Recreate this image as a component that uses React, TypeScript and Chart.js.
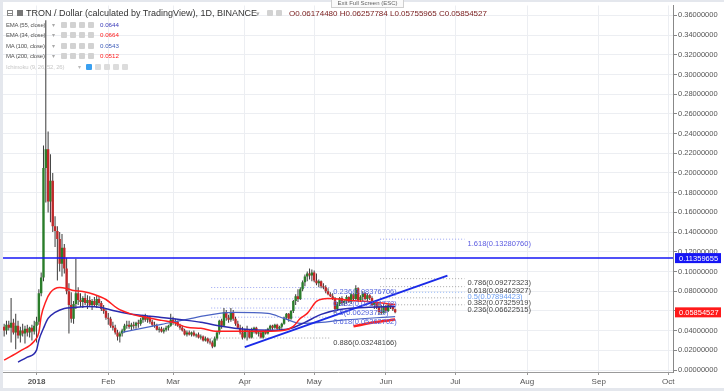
import React, { useEffect, useRef } from 'react';
import { Chart, registerables } from 'chart.js';

Chart.register(...registerables);

const FONT = '"Liberation Sans", Arial, Helvetica, sans-serif';

// day 0 = 1 Jan 2018, first candle = 18 Dec 2017
const FIRST_DAY = -14;

const opens = [
  0.044, 0.040, 0.046, 0.043, 0.048, 0.038, 0.045, 0.035, 0.040, 0.037,
  0.042, 0.038, 0.043, 0.039, 0.045, 0.049, 0.078, 0.094, 0.205, 0.224,
  0.171, 0.192, 0.146, 0.141, 0.133, 0.108, 0.124, 0.103, 0.080, 0.066,
  0.052, 0.067, 0.078, 0.071, 0.069, 0.073, 0.068, 0.071, 0.066, 0.070,
  0.066, 0.072, 0.068, 0.062, 0.060, 0.053, 0.052, 0.045, 0.043, 0.038,
  0.034, 0.037, 0.040, 0.045, 0.046, 0.044, 0.046, 0.045, 0.048, 0.047,
  0.051, 0.055, 0.051, 0.053, 0.049, 0.046, 0.045, 0.041, 0.042, 0.039,
  0.041, 0.043, 0.045, 0.051, 0.048, 0.049, 0.045, 0.043, 0.040, 0.036,
  0.038, 0.036, 0.038, 0.035, 0.036, 0.033, 0.034, 0.030, 0.032, 0.029,
  0.028, 0.024, 0.032, 0.038, 0.050, 0.045, 0.059, 0.053, 0.051, 0.059,
  0.052, 0.047, 0.043, 0.038, 0.033, 0.041, 0.040, 0.033, 0.041, 0.043,
  0.037, 0.038, 0.033, 0.039, 0.037, 0.042, 0.045, 0.043, 0.046, 0.042,
  0.044, 0.047, 0.053, 0.057, 0.052, 0.060, 0.070, 0.075, 0.072, 0.082,
  0.089, 0.095, 0.098, 0.096, 0.099, 0.091, 0.088, 0.090, 0.085, 0.084,
  0.080, 0.077, 0.075, 0.073, 0.062, 0.067, 0.073, 0.068, 0.070, 0.074,
  0.069, 0.077, 0.072, 0.083, 0.071, 0.074, 0.078, 0.072, 0.076, 0.073,
  0.066, 0.068, 0.064, 0.059, 0.058, 0.065, 0.060, 0.066, 0.064, 0.0617448,
];
const highs = [
  0.047, 0.050, 0.050, 0.073, 0.052, 0.057, 0.050, 0.044, 0.047, 0.045,
  0.046, 0.044, 0.046, 0.050, 0.054, 0.082, 0.099, 0.228, 0.355, 0.242,
  0.219, 0.200, 0.156, 0.146, 0.140, 0.138, 0.128, 0.114, 0.088, 0.079,
  0.070, 0.113, 0.084, 0.078, 0.075, 0.078, 0.076, 0.075, 0.072, 0.074,
  0.076, 0.075, 0.070, 0.066, 0.062, 0.058, 0.054, 0.049, 0.046, 0.041,
  0.039, 0.042, 0.047, 0.050, 0.050, 0.048, 0.049, 0.049, 0.051, 0.053,
  0.056, 0.057, 0.055, 0.055, 0.051, 0.049, 0.047, 0.044, 0.044, 0.043,
  0.045, 0.046, 0.057, 0.054, 0.052, 0.050, 0.047, 0.045, 0.042, 0.040,
  0.040, 0.039, 0.040, 0.037, 0.038, 0.036, 0.035, 0.034, 0.033, 0.032,
  0.030, 0.034, 0.039, 0.051, 0.052, 0.063, 0.061, 0.056, 0.063, 0.061,
  0.054, 0.050, 0.046, 0.044, 0.042, 0.045, 0.041, 0.043, 0.044, 0.044,
  0.039, 0.039, 0.040, 0.041, 0.043, 0.046, 0.046, 0.047, 0.047, 0.045,
  0.048, 0.054, 0.058, 0.058, 0.061, 0.071, 0.077, 0.082, 0.084, 0.091,
  0.097, 0.100, 0.103, 0.102, 0.101, 0.098, 0.092, 0.091, 0.088, 0.086,
  0.083, 0.079, 0.078, 0.074, 0.069, 0.074, 0.075, 0.071, 0.076, 0.075,
  0.078, 0.078, 0.086, 0.084, 0.076, 0.080, 0.079, 0.078, 0.077, 0.075,
  0.069, 0.070, 0.068, 0.066, 0.067, 0.066, 0.068, 0.067, 0.065, 0.06257784,
];
const lows = [
  0.034, 0.036, 0.040, 0.028, 0.036, 0.021, 0.032, 0.028, 0.034, 0.027,
  0.034, 0.033, 0.030, 0.036, 0.028, 0.046, 0.075, 0.090, 0.170, 0.160,
  0.150, 0.140, 0.125, 0.091, 0.100, 0.095, 0.098, 0.077, 0.037, 0.048,
  0.047, 0.062, 0.066, 0.064, 0.063, 0.066, 0.062, 0.064, 0.061, 0.064,
  0.063, 0.065, 0.060, 0.057, 0.051, 0.046, 0.043, 0.040, 0.036, 0.030,
  0.028, 0.034, 0.038, 0.042, 0.042, 0.040, 0.042, 0.042, 0.043, 0.045,
  0.048, 0.049, 0.048, 0.047, 0.044, 0.043, 0.040, 0.038, 0.038, 0.037,
  0.039, 0.040, 0.044, 0.046, 0.045, 0.044, 0.041, 0.039, 0.035, 0.034,
  0.035, 0.034, 0.034, 0.033, 0.032, 0.031, 0.029, 0.029, 0.027, 0.026,
  0.022, 0.023, 0.030, 0.036, 0.042, 0.044, 0.050, 0.048, 0.049, 0.050,
  0.045, 0.042, 0.036, 0.031, 0.032, 0.030, 0.032, 0.032, 0.037, 0.036,
  0.034, 0.032, 0.032, 0.036, 0.036, 0.040, 0.041, 0.042, 0.041, 0.040,
  0.042, 0.046, 0.051, 0.049, 0.051, 0.058, 0.066, 0.069, 0.071, 0.080,
  0.085, 0.090, 0.092, 0.090, 0.089, 0.086, 0.084, 0.083, 0.082, 0.078,
  0.076, 0.074, 0.071, 0.058, 0.060, 0.065, 0.066, 0.065, 0.067, 0.068,
  0.067, 0.071, 0.071, 0.069, 0.069, 0.069, 0.071, 0.069, 0.071, 0.065,
  0.062, 0.062, 0.056, 0.056, 0.057, 0.058, 0.059, 0.062, 0.060, 0.05755965,
];
const closes = [
  0.040, 0.046, 0.043, 0.048, 0.038, 0.045, 0.035, 0.040, 0.037, 0.042,
  0.038, 0.043, 0.039, 0.045, 0.049, 0.078, 0.094, 0.205, 0.224, 0.171,
  0.192, 0.146, 0.141, 0.133, 0.108, 0.124, 0.103, 0.080, 0.066, 0.052,
  0.067, 0.078, 0.071, 0.069, 0.073, 0.068, 0.071, 0.066, 0.070, 0.066,
  0.072, 0.068, 0.062, 0.060, 0.053, 0.052, 0.045, 0.043, 0.038, 0.034,
  0.037, 0.040, 0.045, 0.046, 0.044, 0.046, 0.045, 0.048, 0.047, 0.051,
  0.055, 0.051, 0.053, 0.049, 0.046, 0.045, 0.041, 0.042, 0.039, 0.041,
  0.043, 0.045, 0.051, 0.048, 0.049, 0.045, 0.043, 0.040, 0.036, 0.038,
  0.036, 0.038, 0.035, 0.036, 0.033, 0.034, 0.030, 0.032, 0.029, 0.028,
  0.024, 0.032, 0.038, 0.050, 0.045, 0.059, 0.053, 0.051, 0.059, 0.052,
  0.047, 0.043, 0.038, 0.033, 0.041, 0.040, 0.033, 0.041, 0.043, 0.037,
  0.038, 0.033, 0.039, 0.037, 0.042, 0.045, 0.043, 0.046, 0.042, 0.044,
  0.047, 0.053, 0.057, 0.052, 0.060, 0.070, 0.075, 0.072, 0.082, 0.089,
  0.095, 0.098, 0.096, 0.099, 0.091, 0.088, 0.090, 0.085, 0.084, 0.080,
  0.077, 0.075, 0.073, 0.062, 0.067, 0.073, 0.068, 0.070, 0.074, 0.069,
  0.077, 0.072, 0.083, 0.071, 0.074, 0.078, 0.072, 0.076, 0.073, 0.066,
  0.068, 0.064, 0.059, 0.058, 0.065, 0.060, 0.066, 0.064, 0.0617448, 0.05854527,
];

// Indicator lines (day, value)
const ema34Days = [-14, -7, -1, 1, 2, 4, 6, 10, 13, 16, 20, 25, 30, 35, 40, 45, 54, 59, 65, 71, 78, 88, 99, 107, 111, 114, 117, 121, 126, 136, 143, 155];
const ema34Values = [0.0101, 0.0195, 0.0292, 0.0383, 0.0545, 0.0696, 0.0787, 0.0837, 0.0827, 0.0807, 0.0797, 0.0766, 0.0716, 0.0625, 0.0575, 0.0545, 0.0504, 0.0484, 0.0434, 0.0424, 0.0393, 0.0393, 0.0393, 0.0403, 0.0444, 0.0524, 0.0575, 0.0696, 0.0726, 0.0706, 0.0696, 0.0664];
const ema55Days = [-8, -4, 0, 1, 3, 5, 8, 12, 16, 22, 28, 33, 37, 45, 54, 65, 71, 80, 90, 101, 110, 116, 123, 131, 142, 155];
const ema55Values = [0.0081, 0.0131, 0.0202, 0.0303, 0.0424, 0.0524, 0.0585, 0.0625, 0.0635, 0.0645, 0.0635, 0.0605, 0.0585, 0.0555, 0.0534, 0.0504, 0.0484, 0.0444, 0.0413, 0.0403, 0.0424, 0.0484, 0.0565, 0.0615, 0.0635, 0.0644];
const ma100Days = [37, 54, 67, 71, 85, 100, 107, 114, 123, 131, 155];
const ma100Values = [0.0383, 0.0464, 0.0524, 0.0545, 0.0585, 0.0575, 0.0524, 0.0474, 0.0484, 0.0504, 0.0543];
const ma200Days = [137, 146, 155];
const ma200Values = [0.0444, 0.0484, 0.0512];

const trendDays = [90, 177.6];
const trendValues = [0.0232, 0.0958];
const resistanceValue = 0.11359655;
const lastClose = 0.05854527;

const fibADays = [75.5, 127];
const fibALevels = ['0.236', '0.382', '0.5', '0.618', '0.886'];
const fibAValues = [0.08376706, 0.07224778, 0.06293729, 0.05362702, 0.03248166];
const fibALineColors = ['#9aa4f2', '#9aa4f2', '#9aa4f2', '#9aa4f2', '#a8a8a8'];
const fibATextColors = ['#5565dd', '#5565dd', '#5565dd', '#5565dd', '#444444'];

const fibBDays = [148.5, 185];
const fibBLevels = ['1.618', '0.786', '0.618', '0.5', '0.382', '0.236'];
const fibBValues = [0.1328076, 0.09272323, 0.08462927, 0.07894423, 0.07325919, 0.06622515];
const fibBLineColors = ['#9aa4f2', '#a8a8a8', '#a8a8a8', '#8fb4f6', '#a8a8a8', '#a8a8a8'];
const fibBTextColors = ['#5a5ae0', '#444444', '#444444', '#6a9cf0', '#444444', '#444444'];

const monthTickDays = [0, 31, 59, 90, 120, 151, 181, 212, 243, 273];
const monthTickLabels = ['2018', 'Feb', 'Mar', 'Apr', 'May', 'Jun', 'Jul', 'Aug', 'Sep', 'Oct'];
const priceTicks = [0, 0.02, 0.04, 0.06, 0.08, 0.1, 0.12, 0.14, 0.16, 0.18, 0.2, 0.22, 0.24, 0.26, 0.28, 0.3, 0.32, 0.34, 0.36];

const legendNames = ['EMA (55, close)', 'EMA (34, close)', 'MA (100, close)', 'MA (200, close)'];
const legendValues = ['0.0644', '0.0664', '0.0543', '0.0512'];
const legendColors = ['#3a3ab8', '#ff2020', '#3d5bb8', '#ff2020'];

const UP = '#2a7d2a';
const DOWN = '#c0282a';

function pts(days: number[], values: number[]) {
  return days.map((d, i) => ({ x: d, y: values[i] }));
}

const annotationPlugin = {
  id: 'tvAnnotations',
  afterDatasetsDraw(chart: any) {
    const { ctx, scales } = chart;
    const x = scales.x;
    const y = scales.y;
    ctx.save();
    ctx.font = `7.5px ${FONT}`;
    ctx.textBaseline = 'top';
    ctx.textAlign = 'left';
    const ax = x.getPixelForValue(fibADays[1]) + 3;
    fibALevels.forEach((lv, i) => {
      ctx.fillStyle = fibATextColors[i];
      ctx.fillText(`${lv}(${fibAValues[i].toFixed(8)})`, ax, y.getPixelForValue(fibAValues[i]) + 1);
    });
    const bx = x.getPixelForValue(fibBDays[1]) + 3;
    fibBLevels.forEach((lv, i) => {
      ctx.fillStyle = fibBTextColors[i];
      ctx.fillText(`${lv}(${fibBValues[i].toFixed(8)})`, bx, y.getPixelForValue(fibBValues[i]) + 1);
    });
    ctx.restore();
  },
  afterDraw(chart: any) {
    const { ctx, scales, chartArea } = chart;
    const y = scales.y;
    const tag = (v: number, bg: string) => {
      const py = y.getPixelForValue(v);
      const left = chartArea.right + 2;
      ctx.fillStyle = bg;
      ctx.fillRect(left, py - 5, 46, 10);
      ctx.fillStyle = '#ffffff';
      ctx.font = `7.5px ${FONT}`;
      ctx.textBaseline = 'middle';
      ctx.textAlign = 'left';
      ctx.fillText(v.toFixed(8), left + 4, py + 0.5);
    };
    ctx.save();
    tag(resistanceValue, '#1616f5');
    tag(lastClose, '#ff1a1a');
    ctx.restore();
  },
};

export default function App() {
  const canvasRef = useRef<HTMLCanvasElement | null>(null);

  useEffect(() => {
    const days = opens.map((_, i) => FIRST_DAY + i);
    const bodyColors = opens.map((o, i) => (closes[i] >= o ? UP : DOWN));

    const fibDatasets: any[] = [];
    fibAValues.forEach((v, i) => {
      fibDatasets.push({
        type: 'line',
        data: fibADays.map((d) => ({ x: d, y: v })),
        borderColor: fibALineColors[i],
        borderWidth: 1,
        borderDash: [1, 2],
        pointRadius: 0,
        order: 40,
      });
    });
    fibBValues.forEach((v, i) => {
      fibDatasets.push({
        type: 'line',
        data: fibBDays.map((d) => ({ x: d, y: v })),
        borderColor: fibBLineColors[i],
        borderWidth: 1,
        borderDash: [1, 2],
        pointRadius: 0,
        order: 40,
      });
    });

    const chart = new Chart(canvasRef.current as HTMLCanvasElement, {
      type: 'bar',
      data: {
        datasets: [
          {
            type: 'line',
            label: 'Trend',
            data: pts(trendDays, trendValues),
            borderColor: '#1a2ae8',
            borderWidth: 2,
            pointRadius: 0,
            tension: 0,
            order: 1,
          },
          {
            type: 'line',
            label: 'Resistance',
            data: [
              { x: -20, y: resistanceValue },
              { x: 300, y: resistanceValue },
            ],
            borderColor: '#1616f5',
            borderWidth: 1.5,
            pointRadius: 0,
            order: 1,
          },
          {
            type: 'line',
            label: 'EMA 34',
            data: pts(ema34Days, ema34Values),
            borderColor: '#ff1f1f',
            borderWidth: 1.5,
            pointRadius: 0,
            cubicInterpolationMode: 'monotone',
            order: 2,
          },
          {
            type: 'line',
            label: 'EMA 55',
            data: pts(ema55Days, ema55Values),
            borderColor: '#2b2bae',
            borderWidth: 1.5,
            pointRadius: 0,
            cubicInterpolationMode: 'monotone',
            order: 3,
          },
          {
            type: 'line',
            label: 'MA 100',
            data: pts(ma100Days, ma100Values),
            borderColor: '#4a63c4',
            borderWidth: 1.2,
            pointRadius: 0,
            cubicInterpolationMode: 'monotone',
            order: 4,
          },
          {
            type: 'line',
            label: 'MA 200',
            data: pts(ma200Days, ma200Values),
            borderColor: '#ff2020',
            borderWidth: 2.5,
            pointRadius: 0,
            cubicInterpolationMode: 'monotone',
            order: 2,
          },
          {
            type: 'bar',
            label: 'Body',
            data: days.map((d, i) => ({ x: d, y: [opens[i], closes[i]] })),
            backgroundColor: bodyColors,
            borderWidth: 0,
            barThickness: 2.4,
            minBarLength: 1,
            grouped: false,
            inflateAmount: 0,
            order: 20,
          },
          {
            type: 'bar',
            label: 'Wick',
            data: days.map((d, i) => ({ x: d, y: [lows[i], highs[i]] })),
            backgroundColor: '#3a3a3a',
            borderWidth: 0,
            barThickness: 1,
            grouped: false,
            inflateAmount: 0,
            order: 21,
          },
          ...fibDatasets,
        ] as any,
      },
      options: {
        responsive: false,
        animation: false,
        devicePixelRatio: 1,
        events: [],
        layout: { padding: { left: 3, top: 3, right: 0, bottom: 0 }, autoPadding: false },
        plugins: {
          legend: { display: false },
          tooltip: { enabled: false },
          title: { display: false },
        },
        scales: {
          x: {
            type: 'linear',
            min: -14.5,
            max: 275.1,
            offset: false,
            afterBuildTicks: (scale: any) => {
              scale.ticks = monthTickDays.map((v) => ({ value: v }));
            },
            afterFit: (scale: any) => {
              scale.height = 19;
            },
            grid: {
              color: '#eceef2',
              lineWidth: 1,
              drawTicks: true,
              tickLength: 3,
              tickColor: '#999999',
              offset: false,
            },
            border: { display: true, color: '#9a9a9a' },
            ticks: {
              autoSkip: false,
              maxRotation: 0,
              padding: 2,
              color: '#555555',
              font: (ctx: any) => ({
                size: 8,
                family: FONT,
                weight: ctx.tick && ctx.tick.value === 0 ? 'bold' : 'normal',
              }),
              callback: (value: any) => {
                const idx = monthTickDays.indexOf(Number(value));
                return idx >= 0 ? monthTickLabels[idx] : '';
              },
            },
          },
          y: {
            type: 'linear',
            position: 'right',
            min: -0.002,
            max: 0.37,
            afterBuildTicks: (scale: any) => {
              scale.ticks = priceTicks.map((v) => ({ value: v }));
            },
            afterFit: (scale: any) => {
              scale.width = 51;
            },
            grid: {
              color: '#eceef2',
              lineWidth: 1,
              drawTicks: true,
              tickLength: 4,
              tickColor: '#888888',
            },
            border: { display: true, color: '#888888' },
            ticks: {
              padding: 1,
              color: '#555555',
              font: { size: 7.5, family: FONT },
              callback: (value: any) => Number(value).toFixed(8),
            },
          },
        },
      } as any,
      plugins: [annotationPlugin],
    });

    return () => chart.destroy();
  }, []);

  const rowTops = [21.6, 32, 42.5, 53];
  const iconBox = (left: number, top: number, bg: string, key: string) => (
    <div
      key={key}
      style={{ position: 'absolute', left, top, width: 6, height: 6, background: bg, borderRadius: 1 }}
    />
  );

  return (
    <div
      style={{
        position: 'fixed',
        left: 0,
        top: 0,
        width: 724,
        height: 391,
        background: '#ffffff',
        overflow: 'hidden',
        fontFamily: FONT,
      }}
    >
      <canvas
        ref={canvasRef}
        width={724}
        height={391}
        style={{ position: 'absolute', left: 0, top: 0, width: 724, height: 391, display: 'block' }}
      />
      <div style={{ position: 'absolute', left: 0, top: 0, width: 3, height: 391, background: '#e4e7ed' }} />
      <div style={{ position: 'absolute', left: 0, top: 0, width: 724, height: 2, background: '#e4e7ed' }} />
      <div style={{ position: 'absolute', left: 0, top: 388, width: 724, height: 3, background: '#e4e7ed' }} />

      {/* header */}
      <div style={{ position: 'absolute', left: 7, top: 10, width: 4, height: 4, border: '1px solid #888' }} />
      <div style={{ position: 'absolute', left: 8, top: 12.5, width: 4, height: 1, background: '#888' }} />
      <div style={{ position: 'absolute', left: 17, top: 10, width: 6, height: 6, background: '#777' }} />
      <div style={{ position: 'absolute', left: 26, top: 9, fontSize: 9, lineHeight: '9px', color: '#333', whiteSpace: 'nowrap' }}>
        TRON / Dollar (calculated by TradingView), 1D, BINANCE
      </div>
      <div style={{ position: 'absolute', left: 256, top: 10, fontSize: 7, lineHeight: '7px', color: '#aaa' }}>▾</div>
      {iconBox(267, 10, '#d2d2d2', 'h1')}
      {iconBox(276, 10, '#d2d2d2', 'h2')}
      <div style={{ position: 'absolute', left: 289, top: 10, fontSize: 8, lineHeight: '8px', color: '#7b2020', whiteSpace: 'nowrap' }}>
        O0.06174480 H0.06257784 L0.05755965 C0.05854527
      </div>

      {/* exit full screen tooltip */}
      <div
        style={{
          position: 'absolute',
          left: 331,
          top: -2,
          width: 71,
          height: 8,
          border: '1px solid #cfcfcf',
          background: '#fafafa',
          fontSize: 6,
          lineHeight: '9px',
          color: '#666',
          textAlign: 'center',
          whiteSpace: 'nowrap',
        }}
      >
        Exit Full Screen (ESC)
      </div>

      {/* legend */}
      {legendNames.map((n, i) => (
        <React.Fragment key={n}>
          <div style={{ position: 'absolute', left: 6, top: rowTops[i], fontSize: 6, lineHeight: '6px', color: '#555', whiteSpace: 'nowrap', letterSpacing: '-0.2px' }}>
            {n}
          </div>
          <div style={{ position: 'absolute', left: 52, top: rowTops[i], fontSize: 6, lineHeight: '6px', color: '#aaa' }}>▾</div>
          {iconBox(61, rowTops[i], '#d2d2d2', n + 'a')}
          {iconBox(70, rowTops[i], '#d2d2d2', n + 'b')}
          {iconBox(79, rowTops[i], '#d2d2d2', n + 'c')}
          {iconBox(88, rowTops[i], '#d2d2d2', n + 'd')}
          <div style={{ position: 'absolute', left: 100, top: rowTops[i], fontSize: 6.2, lineHeight: '6px', color: legendColors[i], whiteSpace: 'nowrap' }}>
            {legendValues[i]}
          </div>
        </React.Fragment>
      ))}
      <div style={{ position: 'absolute', left: 6, top: 63.6, fontSize: 6, lineHeight: '6px', color: '#c8c8c8', whiteSpace: 'nowrap', letterSpacing: '-0.2px' }}>
        Ichimoku (9, 26, 52, 26)
      </div>
      <div style={{ position: 'absolute', left: 78, top: 63.6, fontSize: 6, lineHeight: '6px', color: '#bbb' }}>▾</div>
      {iconBox(86, 63.6, '#3aa0f0', 'i1')}
      {iconBox(95, 63.6, '#dcdcdc', 'i2')}
      {iconBox(104, 63.6, '#dcdcdc', 'i3')}
      {iconBox(113, 63.6, '#dcdcdc', 'i4')}
      {iconBox(122, 63.6, '#dcdcdc', 'i5')}
    </div>
  );
}
